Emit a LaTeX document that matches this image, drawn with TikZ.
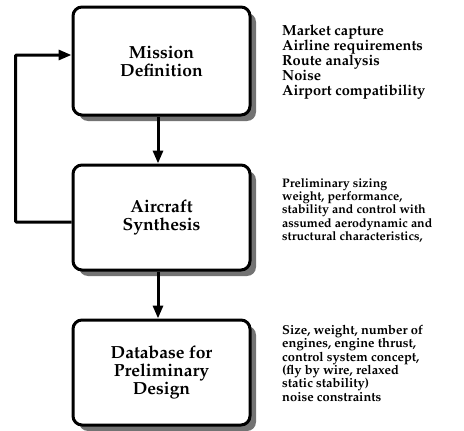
\documentclass[tikz,border=0pt]{standalone}
\usepackage[T1]{fontenc}
\usepackage{mathpazo}
\usetikzlibrary{arrows.meta,shadows,positioning}

\begin{document}
\begin{tikzpicture}[x=1pt, y=-1pt]

	\tikzstyle{bloque}=[draw, line width=3pt, rounded corners=9pt, fill=white, minimum width=177pt, align=center, font=\fontsize{17.5}{18}\selectfont\bfseries, drop shadow={shadow xshift=6pt, shadow yshift=-6pt, fill=black!55, opacity=1}]
	\tikzstyle{nota}=[anchor=north west, inner sep=0pt, align=left]
	\tikzstyle{flujo}=[line width=3pt, -{Triangle[length=13pt, width=10pt]}]

	\useasboundingbox (0, 0) rectangle (464, 431);

	\coordinate (b_1) at (161.5, 61); % MISION
	\coordinate (b_2) at (161.5, 217.5); % SINTESIS
	\coordinate (b_3) at (161.5, 372.5); % BASE DE DATOS

	\coordinate (t_1) at (282, 25);
	\coordinate (t_2) at (282, 178);
	\coordinate (t_3) at (282, 325);

	\node[bloque, minimum height=108pt] (b_1) at (b_1) {Mission\\Definition};
	\node[bloque, minimum height=105pt] (b_2) at (b_2) {Aircraft\\Synthesis};
	\node[bloque, minimum height=105pt] (b_3) at (b_3) {Database for\\Preliminary\\Design};

	\node[nota, font=\fontsize{14.6}{15}\selectfont\bfseries] (t_1) at (t_1) {Market capture\\Airline requirements\\Route analysis\\Noise\\Airport compatibility};
	\node[nota, font=\fontsize{12.4}{13.3}\selectfont\bfseries] (t_2) at (t_2) {Preliminary sizing\\weight, performance,\\stability and control with\\assumed aerodynamic and\\structural characteristics,};
	\node[nota, font=\fontsize{12.9}{13.3}\selectfont\bfseries] (t_3) at (t_3) {Size, weight, number of\\engines, engine thrust,\\control system concept,\\(fly by wire, relaxed\\static stability)\\noise constraints};

	\draw[flujo] ([xshift=-3.5pt]b_1.south) -- ([xshift=-3.5pt]b_2.north);
	\draw[flujo] ([xshift=-3.5pt]b_2.south) -- ([xshift=-3.5pt]b_3.north);
	\draw[flujo, rounded corners=1pt] ([yshift=-4.5pt]b_2.west) -- ++(-56, 0) |- ([yshift=6pt]b_1.west);

\end{tikzpicture}
\end{document}
